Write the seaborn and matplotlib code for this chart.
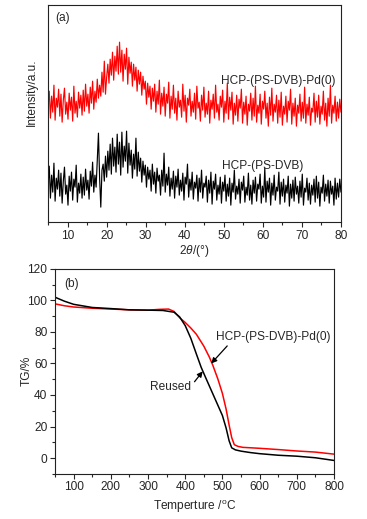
import numpy as np
import pandas as pd
import matplotlib
matplotlib.use('Agg')
import matplotlib.pyplot as plt
import seaborn as sns

sns.set_theme(style='ticks')
plt.rcParams['font.family'] = ['Liberation Sans', 'DejaVu Sans']
plt.rcParams['mathtext.fontset'] = 'custom'
plt.rcParams['mathtext.it'] = 'Liberation Sans:italic'
plt.rcParams['mathtext.rm'] = 'Liberation Sans'
plt.rcParams['xtick.direction'] = 'out'
plt.rcParams['ytick.direction'] = 'out'

# ---- (a) XRD, scan 5-80 deg, step 0.3 ----
scan_start, scan_step = 5.0, 0.3
xrd_pd = [118, 131, 104, 126, 110, 137, 102, 124, 115, 133,
          106, 128, 100, 122, 134, 108, 120, 103, 129, 112,
          125, 101, 136, 109, 121, 105, 130, 114, 127, 107,
          132, 111, 138, 116, 128, 109, 135, 119, 141, 113,
          131, 120, 143, 124, 137, 126, 150, 130, 161, 128,
          145, 158, 139, 163, 147, 170, 142, 166, 151, 176,
          148, 180, 150, 172, 141, 168, 153, 174, 138, 165,
          149, 160, 136, 158, 142, 155, 131, 152, 138, 150,
          127, 146, 133, 141, 118, 139, 125, 136, 113, 134,
          121, 138, 110, 131, 118, 142, 108, 129, 116, 135,
          106, 128, 119, 140, 104, 126, 113, 137, 109, 124,
          102, 131, 115, 122, 105, 138, 111, 127, 100, 124,
          117, 133, 106, 121, 110, 129, 103, 136, 114, 120,
          101, 127, 112, 135, 105, 119, 108, 131, 99, 122,
          113, 128, 104, 137, 110, 118, 102, 126, 115, 132,
          100, 121, 109, 139, 103, 125, 112, 130, 98, 119,
          107, 127, 101, 123, 114, 133, 99, 120, 108, 126,
          97, 118, 111, 129, 102, 124, 106, 136, 100, 117,
          109, 128, 98, 121, 113, 131, 104, 119, 96, 125,
          107, 134, 101, 118, 110, 127, 99, 122, 105, 130,
          97, 116, 108, 126, 100, 121, 112, 133, 98, 119,
          106, 124, 96, 117, 109, 128, 101, 120, 104, 135,
          99, 118, 107, 125, 97, 114, 110, 129, 100, 121,
          105, 127, 98, 116, 108, 131, 102, 119, 96, 124,
          106, 137, 99, 117, 109, 126, 101, 120, 104, 123,
          110]
xrd_hcp = [38, 56, 24, 47, 30, 59, 21, 44, 33, 52,
           26, 49, 19, 41, 55, 28, 37, 17, 46, 31,
           50, 22, 43, 35, 57, 20, 39, 29, 48, 24,
           45, 27, 53, 32, 42, 23, 51, 36, 60, 30,
           47, 35, 62, 89, 44, 15, 52, 58, 41, 66,
           45, 71, 52, 78, 48, 84, 56, 75, 50, 88,
           58, 80, 47, 90, 55, 76, 61, 91, 49, 79,
           57, 72, 44, 68, 53, 84, 46, 70, 51, 64,
           40, 61, 47, 57, 35, 55, 43, 52, 31, 58,
           38, 50, 29, 54, 41, 47, 27, 52, 36, 69,
           30, 48, 37, 55, 26, 44, 33, 51, 24, 46,
           35, 53, 27, 42, 31, 49, 22, 45, 38, 58,
           25, 43, 32, 50, 23, 40, 34, 47, 21, 44,
           30, 52, 24, 39, 35, 46, 20, 42, 29, 50,
           18, 41, 33, 48, 22, 37, 28, 45, 19, 40,
           31, 47, 21, 38, 26, 44, 17, 39, 30, 52,
           23, 36, 28, 43, 19, 40, 32, 46, 20, 35,
           27, 49, 22, 37, 18, 42, 29, 45, 21, 38,
           33, 48, 19, 36, 25, 54, 20, 41, 30, 44,
           17, 39, 27, 47, 22, 35, 31, 50, 18, 40,
           26, 43, 20, 37, 29, 46, 16, 38, 24, 42,
           21, 45, 28, 36, 19, 41, 25, 48, 17, 34,
           30, 44, 22, 39, 18, 37, 27, 43, 20, 46,
           24, 40, 16, 35, 29, 47, 21, 38, 26, 42,
           19, 41, 28, 36, 17, 44, 23, 39, 25, 43,
           30]
two_theta = np.round(scan_start + scan_step * np.arange(len(xrd_pd)), 2)

# ---- (b) TG ----
temp_reused = [50, 75, 100, 150, 200, 250, 300, 340, 370, 385, 400, 415, 430, 443,
               455, 470, 485, 500, 510, 518, 525, 535, 550, 575, 600, 650, 700, 750, 800]
tg_reused = [102, 99.5, 97.5, 95.5, 94.8, 94.0, 93.8, 93.6, 92.5, 89.5, 84, 76, 66, 57.5,
             51, 43, 35, 27, 19, 11, 6.5, 5.2, 4.4, 3.5, 2.8, 1.8, 1.2, 0.2, -1.5]
temp_pd = [50, 75, 100, 150, 200, 250, 300, 330, 355, 370, 385, 400, 415, 430, 450,
           465, 474, 488, 500, 510, 518, 525, 532, 542, 555, 600, 650, 700, 750, 800]
tg_pd = [97.8, 96.6, 95.8, 95.0, 94.5, 94.0, 93.8, 94.3, 94.5, 93, 89, 86, 82.5, 78.5, 71,
         64, 59, 50, 41, 31, 21, 13, 8.5, 7.4, 6.8, 6.2, 5.4, 4.5, 3.8, 2.5]

df_xrd = pd.DataFrame({'two_theta': two_theta, 'pd': xrd_pd, 'hcp': xrd_hcp})

fig = plt.figure(figsize=(3.67, 5.19), dpi=100)
ax1 = fig.add_axes([0.131, 0.572, 0.798, 0.418])
ax2 = fig.add_axes([0.150, 0.087, 0.760, 0.395])

fs = 8.6
red = '#ff0000'

sns.lineplot(data=df_xrd, x='two_theta', y='pd', ax=ax1, color=red, lw=0.85)
sns.lineplot(data=df_xrd, x='two_theta', y='hcp', ax=ax1, color='black', lw=0.85)
ax1.set_xlim(5, 80)
ax1.set_ylim(0, 217)
ax1.set_yticks([])
ax1.set_xticks(range(10, 81, 10))
ax1.set_xticks(range(5, 81, 10), minor=True)
ax1.tick_params(axis='x', which='major', length=3.5, width=0.8, labelsize=fs, pad=2)
ax1.tick_params(axis='x', which='minor', length=2, width=0.8)
ax1.set_xlabel(r'$\mathit{2\theta}$/(°)', fontsize=fs, labelpad=1)
ax1.set_ylabel('Intensity/a.u.', fontsize=fs)
ax1.yaxis.set_label_coords(-0.034, 0.60)
ax1.text(0.024, 0.94, '(a)', transform=ax1.transAxes, fontsize=fs, va='center')
fig.text(221 / 367, 1 - 81 / 519, 'HCP-(PS-DVB)-Pd(0)', fontsize=fs, va='center')
fig.text(222 / 367, 1 - 166 / 519, 'HCP-(PS-DVB)', fontsize=fs, va='center')

sns.lineplot(x=temp_pd, y=tg_pd, ax=ax2, color=red, lw=1.1)
sns.lineplot(x=temp_reused, y=tg_reused, ax=ax2, color='black', lw=1.1)
ax2.set_xlim(50, 800)
ax2.set_ylim(-10, 120)
ax2.set_xticks(range(100, 801, 100))
ax2.set_xticks(range(50, 801, 100), minor=True)
ax2.set_yticks(range(0, 121, 20))
ax2.set_yticks(range(-10, 121, 20), minor=True)
ax2.tick_params(which='major', length=3.5, width=0.8, labelsize=fs, pad=2)
ax2.tick_params(which='minor', length=2, width=0.8)
ax2.set_xlabel(r'Temperture /$^{\mathrm{o}}$C', fontsize=fs, labelpad=3.5)
ax2.set_ylabel('TG/%', fontsize=fs)
ax2.yaxis.set_label_coords(-0.08, 0.5)
ax2.text(75, 110.5, '(b)', fontsize=fs, va='center')
ax2.annotate('HCP-(PS-DVB)-Pd(0)', xy=(470, 60), xytext=(484, 77), fontsize=fs,
             va='center', ha='left',
             arrowprops=dict(arrowstyle='-|>', color='black', lw=0.9,
                             shrinkA=0, shrinkB=0, mutation_scale=8,
                             relpos=(0.12, 0.0)))
ax2.annotate('Reused', xy=(447, 55), xytext=(306, 45), fontsize=fs,
             va='center', ha='left',
             arrowprops=dict(arrowstyle='-|>', color='black', lw=0.9,
                             shrinkA=0, shrinkB=0, mutation_scale=8,
                             relpos=(1.0, 0.6)))

for ax in (ax1, ax2):
    for s in ax.spines.values():
        s.set_linewidth(0.8)
        s.set_color('#222222')

fig.savefig('out.png', dpi=100)
